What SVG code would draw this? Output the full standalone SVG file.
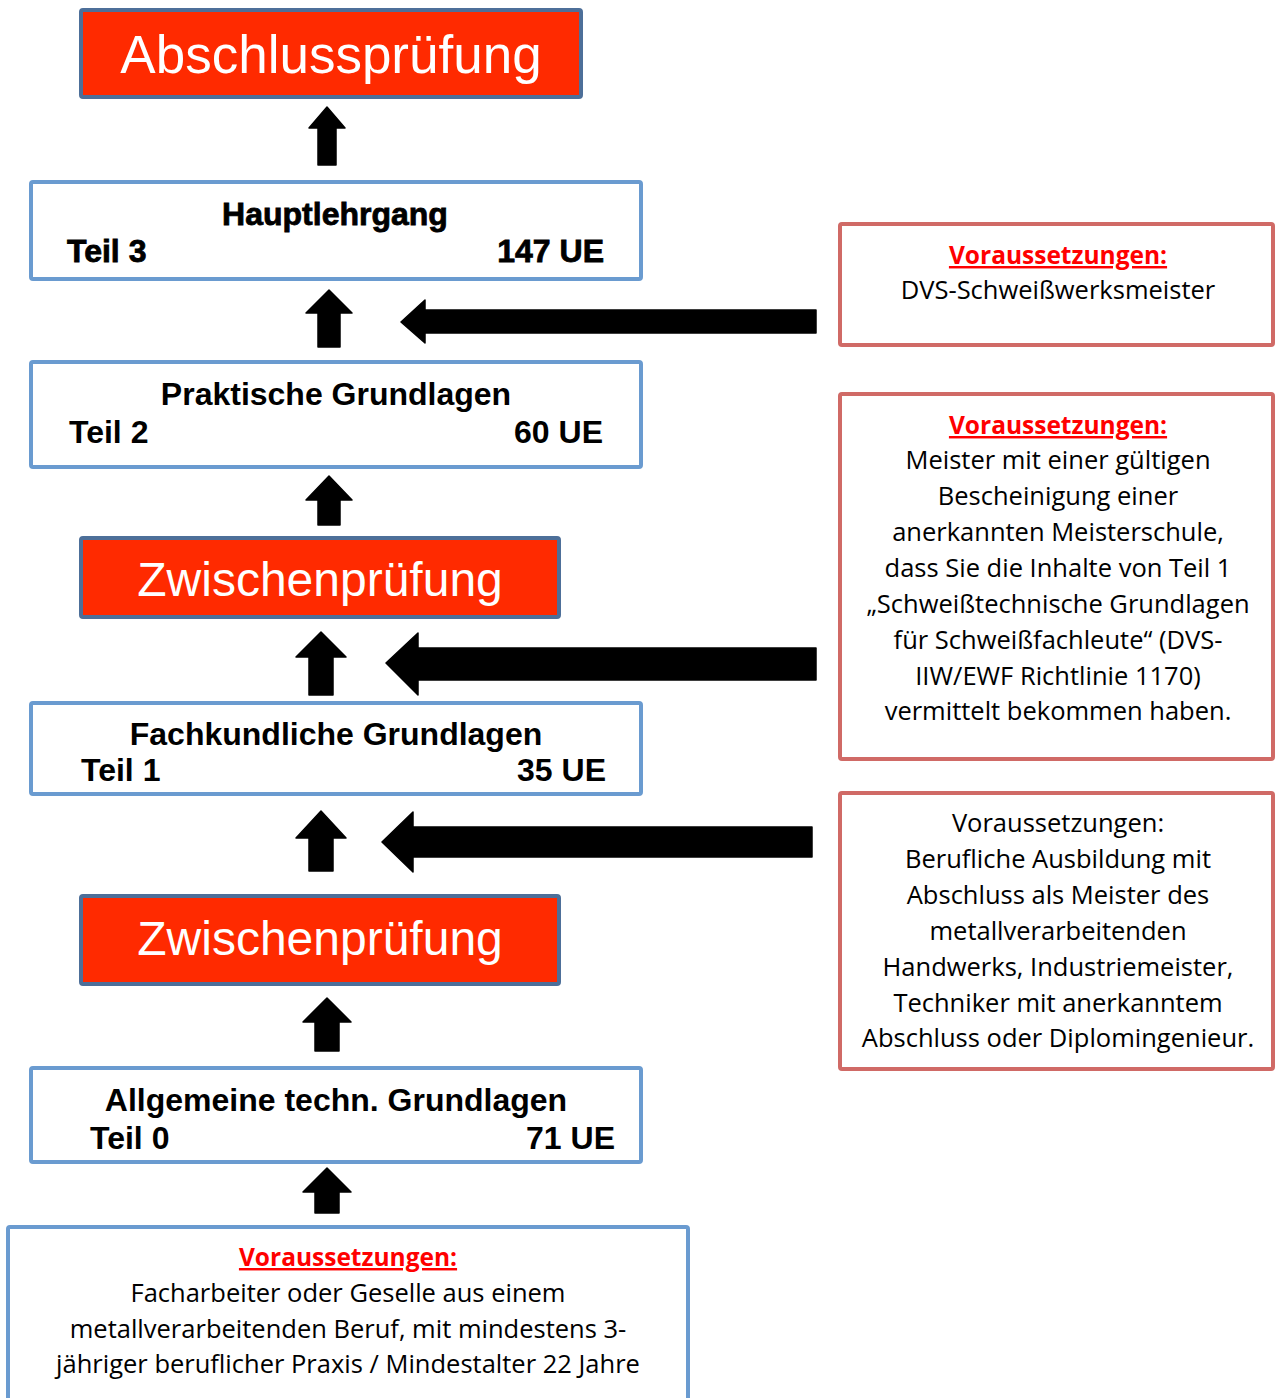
<svg xmlns="http://www.w3.org/2000/svg" width="1275" height="1398" viewBox="0 0 1275 1398">
<style>
.exam{fill:#ff2a00;stroke:#4d6f99;stroke-width:4}
.exam-t{font-family:"Liberation Sans",Arial,sans-serif;fill:#fff;text-anchor:middle}
.course{fill:#fff;stroke:#6a9bd0;stroke-width:4}
.ct{font-family:"Liberation Sans",Arial,sans-serif;font-weight:bold;font-size:32px;fill:#000}
.req{fill:#fff;stroke:#d06a66;stroke-width:4}
.rt{font-family:"Open Sans","Noto Sans",sans-serif;font-size:25.5px;fill:#000;text-anchor:middle}
.rh{font-weight:bold;font-size:24.5px;fill:#ff0000;text-decoration:underline}
.arr{fill:#000;stroke:#000;stroke-width:1.5;stroke-linejoin:round}
</style>
<rect width="1275" height="1398" fill="#fff"/>

<g id="abschluss">
<rect class="exam" x="81" y="10" width="500" height="87" rx="2"/>
<text class="exam-t" x="331" y="73" font-size="53">Abschlussprüfung</text>
</g>

<g id="hauptlehrgang">
<rect class="course" x="31" y="182" width="610" height="97" rx="2"/>
<text class="ct" x="335" y="225" text-anchor="middle" font-size="33" stroke="#000" stroke-width="0.8">Hauptlehrgang</text>
<text class="ct" x="67" y="262" stroke="#000" stroke-width="0.8">Teil 3</text>
<text class="ct" x="604" y="262" text-anchor="end" stroke="#000" stroke-width="0.8">147 UE</text>
</g>

<g id="praktische">
<rect class="course" x="31" y="362" width="610" height="105" rx="2"/>
<text class="ct" x="336" y="405" text-anchor="middle">Praktische Grundlagen</text>
<text class="ct" x="69" y="443">Teil 2</text>
<text class="ct" x="603" y="443" text-anchor="end">60 UE</text>
</g>

<g id="zwischen1">
<rect class="exam" x="81" y="538" width="478" height="79" rx="2"/>
<text class="exam-t" x="320" y="596" font-size="48">Zwischenprüfung</text>
</g>

<g id="fachkundliche">
<rect class="course" x="31" y="703" width="610" height="91" rx="2"/>
<text class="ct" x="336" y="745" text-anchor="middle">Fachkundliche Grundlagen</text>
<text class="ct" x="81" y="781">Teil 1</text>
<text class="ct" x="606" y="781" text-anchor="end">35 UE</text>
</g>

<g id="zwischen2">
<rect class="exam" x="81" y="896" width="478" height="88" rx="2"/>
<text class="exam-t" x="320" y="955" font-size="48">Zwischenprüfung</text>
</g>

<g id="allgemeine">
<rect class="course" x="31" y="1068" width="610" height="94" rx="2"/>
<text class="ct" x="336" y="1111" text-anchor="middle">Allgemeine techn. Grundlagen</text>
<text class="ct" x="90" y="1149">Teil 0</text>
<text class="ct" x="615" y="1149" text-anchor="end">71 UE</text>
</g>

<g id="req-bottom">
<rect class="course" x="8" y="1227" width="680" height="200" rx="2"/>
<text class="rt rh" x="348" y="1266">Voraussetzungen:</text>
<text class="rt" x="348" y="1302">Facharbeiter oder Geselle aus einem</text>
<text class="rt" x="348" y="1338">metallverarbeitenden Beruf, mit mindestens 3-</text>
<text class="rt" x="348" y="1373">jähriger beruflicher Praxis / Mindestalter 22 Jahre</text>
</g>

<g id="req-dvs">
<rect class="req" x="840" y="224" width="433" height="121" rx="2"/>
<text class="rt rh" x="1058" y="264">Voraussetzungen:</text>
<text class="rt" x="1058" y="299">DVS-Schweißwerksmeister</text>
</g>

<g id="req-meister">
<rect class="req" x="840" y="394" width="433" height="365" rx="2"/>
<text class="rt rh" x="1058" y="434">Voraussetzungen:</text>
<text class="rt" x="1058" y="469">Meister mit einer gültigen</text>
<text class="rt" x="1058" y="505">Bescheinigung einer</text>
<text class="rt" x="1058" y="541">anerkannten Meisterschule,</text>
<text class="rt" x="1058" y="577">dass Sie die Inhalte von Teil 1</text>
<text class="rt" x="1058" y="613">„Schweißtechnische Grundlagen</text>
<text class="rt" x="1058" y="649">für Schweißfachleute“ (DVS-</text>
<text class="rt" x="1058" y="685">IIW/EWF Richtlinie 1170)</text>
<text class="rt" x="1058" y="720">vermittelt bekommen haben.</text>
</g>

<g id="req-ausbildung">
<rect class="req" x="840" y="793" width="433" height="276" rx="2"/>
<text class="rt" x="1058" y="832">Voraussetzungen:</text>
<text class="rt" x="1058" y="868">Berufliche Ausbildung mit</text>
<text class="rt" x="1058" y="904">Abschluss als Meister des</text>
<text class="rt" x="1058" y="940">metallverarbeitenden</text>
<text class="rt" x="1058" y="976">Handwerks, Industriemeister,</text>
<text class="rt" x="1058" y="1012">Techniker mit anerkanntem</text>
<text class="rt" x="1058" y="1047">Abschluss oder Diplomingenieur.</text>
</g>

<g id="connectors">
<polygon class="arr" points="327,107 345,128 336,128 336,165 318,165 318,128 309,128"/>
<polygon class="arr" points="329,290 352,313 340,313 340,347 318,347 318,313 306,313"/>
<polygon class="arr" points="329,476 352,500 340,500 340,525 318,525 318,500 306,500"/>
<polygon class="arr" points="321,632 346,657 333,657 333,695 309,695 309,657 296,657"/>
<polygon class="arr" points="321,811 346,838 333,838 333,871 309,871 309,838 296,838"/>
<polygon class="arr" points="327,998 351,1022 339,1022 339,1051 315,1051 315,1022 303,1022"/>
<polygon class="arr" points="327,1168 351,1192 339,1192 339,1213 315,1213 315,1192 303,1192"/>
<polygon class="arr" points="401,322 425,300 425,310 816,310 816,333 425,333 425,343"/>
<polygon class="arr" points="386,663 418,633 418,648 816,648 816,680 418,680 418,695"/>
<polygon class="arr" points="382,842 413,812 413,827 812,827 812,857 413,857 413,872"/>
</g>
</svg>
